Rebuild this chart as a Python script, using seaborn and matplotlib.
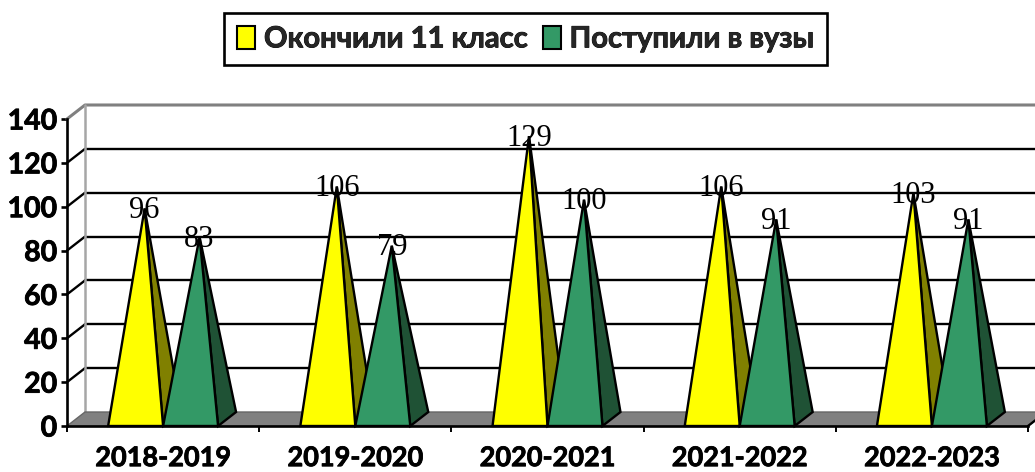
import pandas as pd
import seaborn as sns
import matplotlib.pyplot as plt
import matplotlib.patheffects as pe
from matplotlib.patches import Polygon, Patch

# Values
years = ["2018-2019", "2019-2020", "2020-2021", "2021-2022", "2022-2023"]
finished = [96, 106, 129, 106, 103]
enrolled = [83, 79, 100, 91, 91]
series_names = ["Окончили 11 класс", "Поступили в вузы"]
y_ticks = [0, 20, 40, 60, 80, 100, 120, 140]

front_colors = ["#FFFF00", "#339966"]
side_colors = ["#808000", "#1F5235"]

df = pd.DataFrame({
    "year": years * 2,
    "value": finished + enrolled,
    "series": [series_names[0]] * 5 + [series_names[1]] * 5,
})

sns.set_style("white")
plt.rcParams["font.family"] = ["Lato", "Noto Sans", "DejaVu Sans"]

W, H = 1035, 472
fig = plt.figure(figsize=(W / 100, H / 100), dpi=100)
ax = fig.add_axes([67 / W, (H - 426) / H, (1028 - 67) / W, (426 - 119) / H])

# Bars only give the positions and heights, the pyramids are built on them
sns.barplot(data=df, x="year", y="value", hue="series", palette=front_colors,
            width=0.572, gap=0, legend=False, ax=ax)
ax.set_xlim(-0.5, 4.5)
ax.set_ylim(0, 140)

# 3D depth of the box in data units
dx = 18 / 192.2
dy = 14 / (307 / 140)

# Back wall grid and side wall diagonals
for t in y_ticks[1:-1]:
    ax.plot([-0.5 + dx, 4.5 + dx], [t + dy, t + dy], color="black", lw=1.7, clip_on=False, zorder=1)
    ax.plot([-0.5, -0.5 + dx], [t, t + dy], color="black", lw=1.7, clip_on=False, zorder=1)
ax.plot([-0.5, -0.5 + dx, 4.5 + dx], [140, 140 + dy, 140 + dy], color="#808080", lw=2.2, clip_on=False, zorder=1)
ax.plot([-0.5 + dx, -0.5 + dx], [dy, 140 + dy], color="#A6A6A6", lw=1.8, clip_on=False, zorder=1)

# Floor
ax.add_patch(Polygon([(-0.5, 0), (-0.5 + dx, dy), (4.5 + dx, dy), (4.5, 0)], closed=True,
                     facecolor="#808080", edgecolor="#666666", lw=1, clip_on=False, zorder=1.5))
ax.plot([4.5, 4.5 + dx], [0, dy], color="black", lw=1.7, clip_on=False, zorder=1.6)

# Pyramids
labels = []
for i, cont in enumerate(ax.containers):
    for bar in cont:
        bar.set_visible(False)
        x0 = bar.get_x()
        x1 = x0 + bar.get_width()
        h = bar.get_height()
        apex = ((x0 + x1) / 2 + dx / 2, h + dy / 2)
        ax.add_patch(Polygon([(x1, 0), (x1 + dx, dy), apex], closed=True, facecolor=side_colors[i],
                             edgecolor="black", lw=1.7, joinstyle="miter", clip_on=False, zorder=2 + i))
        ax.add_patch(Polygon([(x0, 0), (x1, 0), apex], closed=True, facecolor=front_colors[i],
                             edgecolor="black", lw=1.7, joinstyle="miter", clip_on=False, zorder=2.1 + i))
        labels.append((apex, h))

for apex, h in labels:
    ax.annotate(str(int(h)), xy=apex, xytext=(0, -1.5), textcoords="offset points",
                ha="center", va="center", fontsize=22,
                family="Liberation Serif", color="black", zorder=5, annotation_clip=False)

# Axes
sns.despine(ax=ax, top=True, right=True)
for side in ["left", "bottom"]:
    ax.spines[side].set_linewidth(1.9)
    ax.spines[side].set_color("black")
    ax.spines[side].set_zorder(4)

ax.set_xlabel("")
ax.set_ylabel("")
ax.set_yticks(y_ticks)
ax.set_xticks(range(len(years)))
ax.set_xticklabels(years)
ax.set_xticks([i - 0.5 for i in range(len(years) + 1)], minor=True)
ax.tick_params(axis="y", which="major", left=True, length=4.5, width=1.9, color="black", pad=2.5,
               labelsize=20.5, labelcolor="black")
ax.tick_params(axis="x", which="major", bottom=False, length=0, pad=14.5, labelsize=19.5, labelcolor="black")
ax.tick_params(axis="x", which="minor", bottom=True, length=4.5, width=1.4, color="black")

# Lato bold is a bit lighter than the original font, so thicken it slightly
heavy = [pe.withStroke(linewidth=0.6, foreground="black")]
for lab in ax.get_xticklabels() + ax.get_yticklabels():
    lab.set_fontweight("bold")
    lab.set_path_effects(heavy)

# Legend
handles = [Patch(facecolor=c, edgecolor="black", lw=1.5) for c in front_colors]
leg = fig.legend(handles, series_names, ncol=2, loc="center", bbox_to_anchor=(525.5 / W, (H - 39) / H),
                 frameon=True, fancybox=False, edgecolor="black", framealpha=1,
                 prop={"weight": "bold", "size": 21}, handlelength=0.62, handleheight=0.85,
                 handletextpad=0.3, columnspacing=0.5, borderpad=0.45, borderaxespad=0)
leg.get_frame().set_linewidth(1.9)
for t in leg.get_texts():
    t.set_path_effects(heavy)

fig.savefig("out.png", dpi=100)
